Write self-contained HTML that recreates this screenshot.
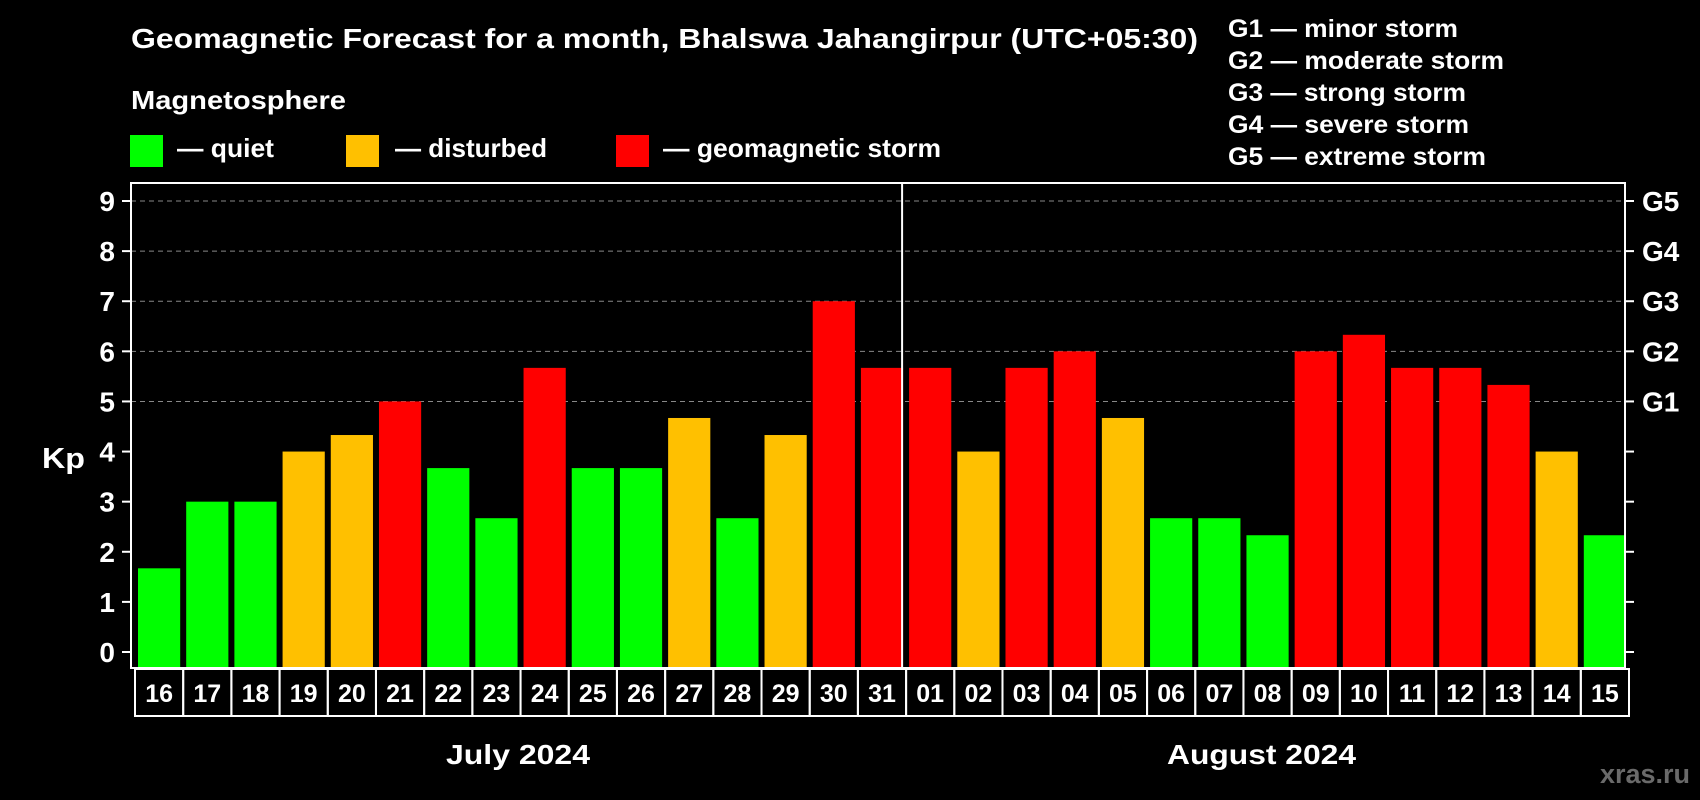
<!DOCTYPE html>
<html><head><meta charset="utf-8"><style>
html,body{margin:0;padding:0;background:#000;}
svg{display:block;font-family:"Liberation Sans",Arial,sans-serif;font-weight:bold;}
</style></head><body>
<svg id="chart" width="1700" height="800" viewBox="0 0 1700 800">
<text x="131" y="48" fill="#fff" font-size="28" textLength="1067" lengthAdjust="spacingAndGlyphs">Geomagnetic Forecast for a month, Bhalswa Jahangirpur (UTC+05:30)</text>
<text x="131" y="109" fill="#fff" font-size="26" textLength="215" lengthAdjust="spacingAndGlyphs">Magnetosphere</text>
<g><rect x="130" y="135" width="33" height="32" fill="#00ff00"/><text x="177" y="157" fill="#fff" font-size="26" textLength="97" lengthAdjust="spacingAndGlyphs">— quiet</text></g>
<g><rect x="346" y="135" width="33" height="32" fill="#ffc000"/><text x="395" y="157" fill="#fff" font-size="26" textLength="152" lengthAdjust="spacingAndGlyphs">— disturbed</text></g>
<g><rect x="616" y="135" width="33" height="32" fill="#ff0000"/><text x="663" y="157" fill="#fff" font-size="26" textLength="278" lengthAdjust="spacingAndGlyphs">— geomagnetic storm</text></g>
<g fill="#fff" font-size="25" lengthAdjust="spacingAndGlyphs">
<text x="1228" y="37" textLength="230" lengthAdjust="spacingAndGlyphs">G1 — minor storm</text>
<text x="1228" y="69" textLength="276" lengthAdjust="spacingAndGlyphs">G2 — moderate storm</text>
<text x="1228" y="101" textLength="238" lengthAdjust="spacingAndGlyphs">G3 — strong storm</text>
<text x="1228" y="133" textLength="241" lengthAdjust="spacingAndGlyphs">G4 — severe storm</text>
<text x="1228" y="165" textLength="258" lengthAdjust="spacingAndGlyphs">G5 — extreme storm</text>
</g>
<text x="42" y="468" fill="#fff" font-size="29" textLength="43" lengthAdjust="spacingAndGlyphs">Kp</text>
<text x="446" y="764" fill="#fff" font-size="28" textLength="144" lengthAdjust="spacingAndGlyphs">July 2024</text>
<text x="1167" y="764" fill="#fff" font-size="28" textLength="189" lengthAdjust="spacingAndGlyphs">August 2024</text>
<text x="1690" y="783" fill="#6a6a6a" font-size="27" text-anchor="end">xras.ru</text>
<g id="plot"></g>
</svg>
<script>
const days = ["16","17","18","19","20","21","22","23","24","25","26","27","28","29","30","31","01","02","03","04","05","06","07","08","09","10","11","12","13","14","15"];
const kpValues = [1.67,3,3,4,4.33,5,3.67,2.67,5.67,3.67,3.67,4.67,2.67,4.33,7,5.67,5.67,4,5.67,6,4.67,2.67,2.67,2.33,6,6.33,5.67,5.67,5.33,4,2.33];
const yTicks = [0,1,2,3,4,5,6,7,8,9];
const gLabels = ["G1","G2","G3","G4","G5"];
const gLevels = [5,6,7,8,9];
const monthSplitIndex = 16;

const NS="http://www.w3.org/2000/svg";
const plot=document.getElementById('plot');
const L=131,R=1625,T=183,B=668;
const y0=652,y9=201;
const yScale=v=>y0-(v)*(y0-y9)/9;
const step=(R-L)/days.length;
const xScale=i=>L+i*step;
function mk(tag,attrs){const e=document.createElementNS(NS,tag);for(const k in attrs)e.setAttribute(k,attrs[k]);plot.appendChild(e);return e;}
function color(v){return v<4?"#00ff00":(v<5?"#ffc000":"#ff0000");}

yTicks.forEach(t=>{
  const y=yScale(t);
  if(t>=5){const g=mk('line',{x1:L,x2:R,y1:y,y2:y,stroke:'#888','stroke-width':1,'stroke-dasharray':'5,4'});
  
  }
  const tk=mk('line',{x1:L-9,x2:L,y1:y,y2:y,stroke:'#fff','stroke-width':2});
  
  
  const tr=mk('line',{x1:R,x2:R+9,y1:y,y2:y,stroke:'#fff','stroke-width':2});
  
  
  const lb=mk('text',{x:L-16,y:y+10,fill:'#fff','font-size':28,'text-anchor':'end'});
  lb.textContent=t;
  
  
});
gLabels.forEach((g,i)=>{
  const lb=mk('text',{x:R+17,y:yScale(gLevels[i])+10,fill:'#fff','font-size':28});
  lb.textContent=g;
  
  
});
kpValues.forEach((v,i)=>{
  const x=xScale(i)+7;
  const b=mk('rect',{x:x,y:yScale(v),width:step-6,height:B-yScale(v)-1,fill:color(v)});
  
  
  const bx=mk('rect',{x:xScale(i)+4,y:B+1,width:step,height:47,fill:'none',stroke:'#fff','stroke-width':2});
  
  
  const tx=mk('text',{x:xScale(i)+4+step/2,y:B+34,fill:'#fff','font-size':25,'text-anchor':'middle'});
  tx.textContent=days[i];
  
  
});
const sep=mk('line',{x1:xScale(monthSplitIndex),x2:xScale(monthSplitIndex),y1:T,y2:B,stroke:'#fff','stroke-width':2});


const fr=mk('rect',{x:L,y:T,width:R-L,height:B-T,fill:'none',stroke:'#fff','stroke-width':2});


</script>
</body></html>
